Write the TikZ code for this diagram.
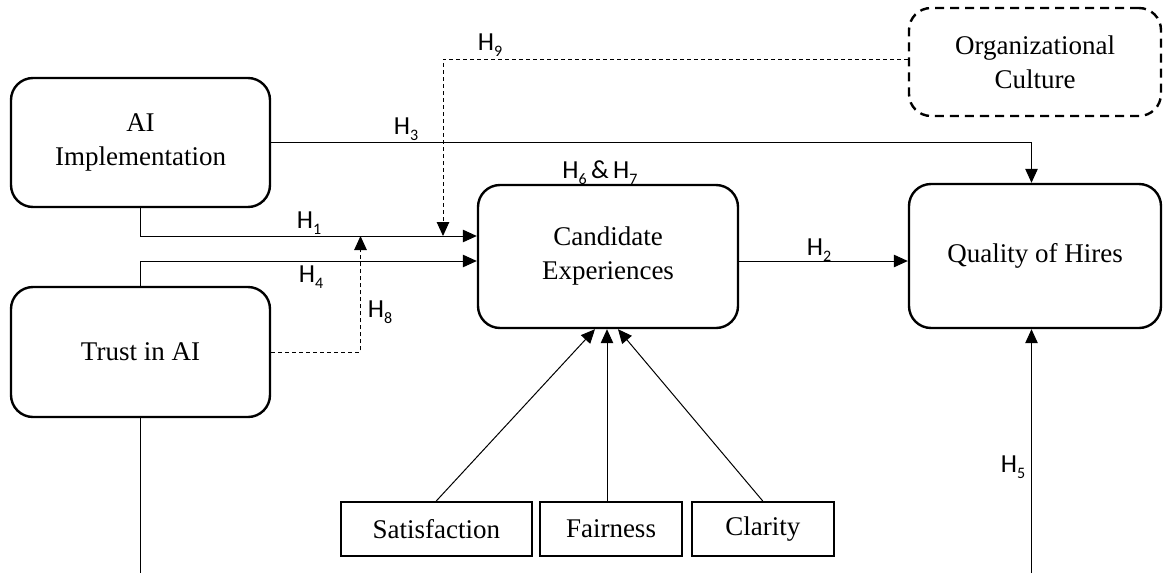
\documentclass[tikz,border=0pt]{standalone}
\usepackage{fontspec}
\setmainfont{Liberation Serif}
\newfontfamily\hfont{Carlito}
\usetikzlibrary{arrows.meta,calc}
\newcommand\hyp[1]{H\raisebox{-0.22em}{\fontsize{16pt}{16pt}\selectfont #1}}
\begin{document}
\begin{tikzpicture}[x=1pt,y=-1pt,
  rbox/.style={draw,line width=2.4pt,rounded corners=22pt,align=center,inner sep=0pt,
    font=\fontsize{27pt}{34pt}\selectfont},
  sbox/.style={draw,line width=2pt,align=center,inner sep=0pt,minimum height=54pt,
    font=\fontsize{27pt}{32pt}\selectfont},
  conn/.style={line width=1pt,-{Triangle[length=14pt,width=12.5pt]}},
  plain/.style={line width=1pt},
  dconn/.style={line width=1pt,dash pattern=on 4pt off 3pt,-{Triangle[length=14pt,width=12.5pt]}},
  hlab/.style={font=\hfont\fontsize{26pt}{26pt}\selectfont,inner sep=0pt}]
\useasboundingbox (0,0) rectangle (1164,573);
% boxes
\node[rbox,minimum width=259pt,minimum height=129pt] (ai) at (140.5,142.5) {AI\\Implementation};
\node[rbox,minimum width=259pt,minimum height=130pt] (tr) at (140.5,352) {Trust in AI};
\node[rbox,minimum width=260pt,minimum height=143pt] (ce) at (608,256.5) {Candidate\\Experiences};
\node[rbox,minimum width=252pt,minimum height=144pt] (q) at (1035,256) {Quality of Hires};
\node[rbox,dash pattern=on 9pt off 6pt,minimum width=252pt,minimum height=108pt] (org) at (1035,62) {Organizational\\Culture};
\node[sbox,minimum width=191.5pt] (sat) at (436.25,529) {Satisfaction};
\node[sbox,minimum width=142pt] (fair) at (611,529) {Fairness};
\node[sbox,minimum width=141.5pt] (cl) at (762.75,529) {Clarity};
% helper coordinates
\coordinate (m9) at (443,236);
\coordinate (m8) at (360.5,236);
\coordinate (b5) at (1031.5,573);
% connectors
\draw[conn] (ai.east) -| ([xshift=-3.5pt]q.north);
\draw[conn] (ai.south) |- ([yshift=20.5pt]ce.west);
\draw[conn] (tr.north) |- ([yshift=-4.5pt]ce.west);
\draw[conn] ([yshift=-4.5pt]ce.east) coordinate (h2s) -- (h2s -| q.west);
\draw[dconn] ([yshift=3pt]org.west) -| (m9);
\draw[dconn] (tr.east) -| (m8);
\draw[conn] (b5) -- (b5 |- q.south);
\draw[plain] (tr.south) -- (tr.south |- b5);
\draw[conn] (sat.north) -- ([xshift=-13pt]ce.south);
\draw[conn] ([xshift=-4pt]fair.north) -- ([xshift=-1pt]ce.south);
\draw[conn] (cl.north) -- ([xshift=10pt]ce.south);
% labels
\node[hlab] (l9) at (490,45) {\hyp{9}};
\node[hlab] (l3) at (406,129) {\hyp{3}};
\node[hlab] (l67) at (600,173) {\hyp{6}\,\&\,\hyp{7}};
\node[hlab] (l1) at (309,223) {\hyp{1}};
\node[hlab] (l4) at (311,277) {\hyp{4}};
\node[hlab] (l2) at (819,250) {\hyp{2}};
\node[hlab] (l8) at (380,312) {\hyp{8}};
\node[hlab] (l5) at (1013,467) {\hyp{5}};
\end{tikzpicture}
\end{document}
